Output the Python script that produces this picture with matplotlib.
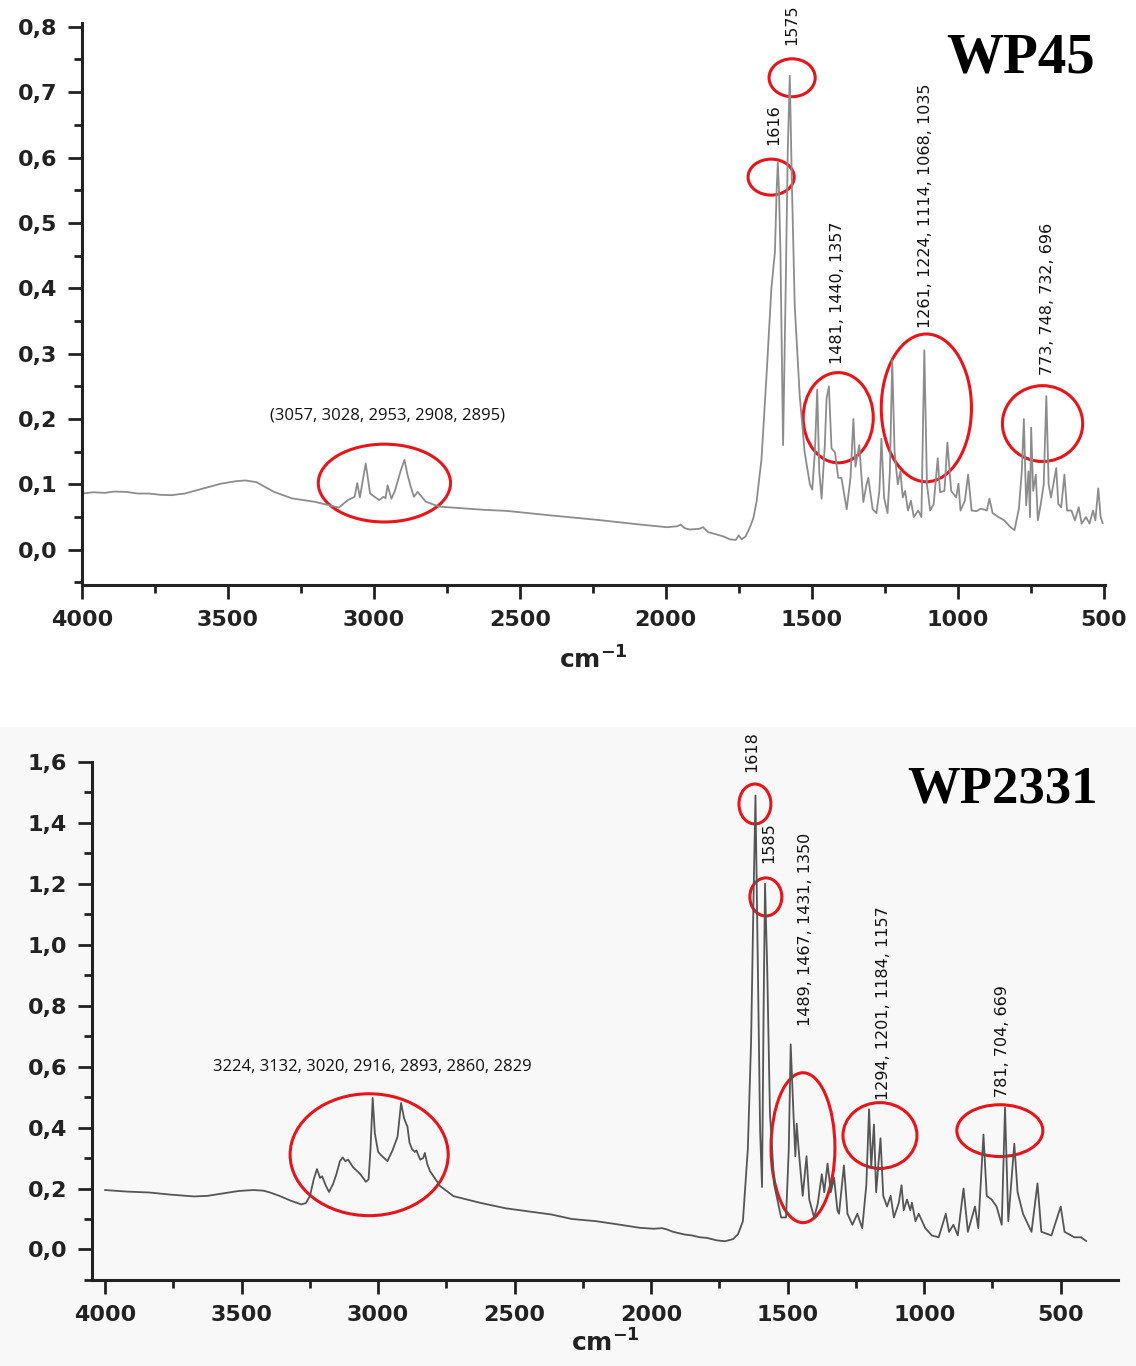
import numpy as np
import matplotlib
matplotlib.use("Agg")
from matplotlib import pyplot as plt
from matplotlib.patches import Ellipse, Rectangle
from matplotlib.ticker import MultipleLocator, FuncFormatter

# WP45 spectrum
wp45_wn = [4000, 3960, 3923, 3890, 3847, 3810, 3770, 3730, 3694, 3648, 3586, 3525, 3470, 3441,
           3403, 3342, 3280, 3204, 3158, 3120, 3089, 3066, 3057, 3048, 3028, 3013, 2982, 2967,
           2960, 2953, 2940, 2928, 2916, 2908, 2895, 2885, 2875, 2863, 2850, 2822, 2776, 2699,
           2620, 2546, 2470, 2393, 2301, 2240, 2160, 2087, 2030, 1995, 1960, 1949, 1935, 1918,
           1885, 1872, 1855, 1826, 1800, 1781, 1760, 1750, 1740, 1727, 1712, 1700, 1689, 1672,
           1655, 1638, 1626, 1620, 1616, 1612, 1607, 1598, 1589, 1582, 1575, 1568, 1558, 1541,
           1524, 1506, 1498, 1489, 1481, 1474, 1466, 1455, 1449, 1441, 1432, 1420, 1409, 1398,
           1380, 1367, 1357, 1350, 1337, 1323, 1312, 1306, 1291, 1278, 1268, 1261, 1252, 1240,
           1232, 1224, 1216, 1205, 1196, 1188, 1180, 1170, 1160, 1150, 1135, 1124, 1114, 1105,
           1094, 1082, 1068, 1060, 1045, 1035, 1022, 1005, 997, 990, 975, 964, 952, 935, 920,
           900, 891, 880, 860, 840, 820, 805, 790, 780, 773, 765, 757, 752, 748, 741, 732, 725,
           715, 705, 696, 688, 680, 662, 655, 645, 634, 625, 610, 598, 585, 575, 560, 548, 536,
           528, 518, 510, 503]
wp45_abs = [0.086, 0.088, 0.087, 0.089, 0.0885, 0.086, 0.086, 0.084, 0.0835, 0.086, 0.0935, 0.101,
            0.105, 0.106, 0.1035, 0.0885, 0.0785, 0.0735, 0.0685, 0.0645, 0.076, 0.081, 0.102, 0.08,
            0.132, 0.086, 0.076, 0.081, 0.079, 0.0985, 0.078, 0.09, 0.1085, 0.121, 0.1375, 0.115,
            0.0985, 0.081, 0.0885, 0.0735, 0.066, 0.0635, 0.061, 0.0595, 0.056, 0.0525, 0.0485,
            0.046, 0.042, 0.0385, 0.036, 0.0345, 0.036, 0.0385, 0.033, 0.031, 0.032, 0.0345, 0.027,
            0.0235, 0.02, 0.016, 0.015, 0.022, 0.016, 0.02, 0.034, 0.048, 0.073, 0.138, 0.264, 0.40,
            0.455, 0.55, 0.592, 0.55, 0.455, 0.16, 0.40, 0.608, 0.725, 0.564, 0.373, 0.236, 0.149,
            0.10, 0.092, 0.15, 0.245, 0.12, 0.078, 0.16, 0.231, 0.25, 0.155, 0.149, 0.11, 0.11,
            0.062, 0.11, 0.20, 0.127, 0.16, 0.073, 0.10, 0.11, 0.062, 0.056, 0.09, 0.17, 0.08,
            0.056, 0.12, 0.29, 0.15, 0.10, 0.12, 0.08, 0.09, 0.06, 0.075, 0.05, 0.06, 0.05, 0.305,
            0.10, 0.06, 0.07, 0.14, 0.088, 0.09, 0.164, 0.09, 0.08, 0.101, 0.06, 0.075, 0.115,
            0.06, 0.059, 0.063, 0.06, 0.078, 0.056, 0.05, 0.045, 0.035, 0.03, 0.063, 0.12, 0.20,
            0.068, 0.12, 0.05, 0.187, 0.09, 0.115, 0.045, 0.07, 0.10, 0.235, 0.10, 0.08, 0.125,
            0.07, 0.065, 0.115, 0.06, 0.06, 0.045, 0.065, 0.04, 0.05, 0.04, 0.06, 0.045, 0.094,
            0.05, 0.041]

# WP2331 spectrum
wp2331_wn = [4000, 3920, 3839, 3760, 3674, 3625, 3560, 3511, 3458, 3420, 3396, 3359, 3320, 3282,
             3265, 3250, 3236, 3224, 3213, 3205, 3192, 3180, 3165, 3152, 3140, 3130, 3120, 3110,
             3092, 3067, 3045, 3035, 3028, 3020, 3012, 3000, 2990, 2966, 2947, 2929, 2922, 2916,
             2905, 2896, 2893, 2885, 2876, 2866, 2860, 2846, 2835, 2829, 2820, 2810, 2773, 2724,
             2626, 2532, 2450, 2367, 2290, 2203, 2120, 2041, 1990, 1960, 1943, 1920, 1877, 1850,
             1822, 1796, 1760, 1730, 1700, 1682, 1664, 1646, 1634, 1625, 1618, 1609, 1601, 1594,
             1588, 1583, 1575, 1565, 1549, 1524, 1506, 1496, 1489, 1479, 1472, 1467, 1460, 1445,
             1431, 1421, 1403, 1390, 1375, 1366, 1354, 1342, 1330, 1318, 1312, 1294, 1281, 1263,
             1245, 1227, 1212, 1202, 1194, 1184, 1176, 1160, 1150, 1136, 1123, 1111, 1093, 1083,
             1075, 1063, 1051, 1045, 1032, 1020, 996, 972, 947, 921, 909, 893, 877, 856, 840, 814,
             802, 783, 771, 753, 735, 716, 704, 692, 670, 658, 638, 607, 585, 571, 534, 500, 486,
             450, 426, 407]
wp2331_abs = [0.195, 0.19, 0.187, 0.18, 0.174, 0.176, 0.185, 0.192, 0.195, 0.193, 0.187, 0.175,
              0.16, 0.148, 0.152, 0.175, 0.23, 0.264, 0.235, 0.24, 0.21, 0.189, 0.215, 0.25, 0.29,
              0.302, 0.29, 0.295, 0.27, 0.249, 0.222, 0.23, 0.33, 0.497, 0.38, 0.32, 0.31, 0.29,
              0.326, 0.37, 0.43, 0.481, 0.43, 0.41, 0.405, 0.35, 0.33, 0.32, 0.325, 0.295, 0.30,
              0.317, 0.28, 0.257, 0.208, 0.175, 0.153, 0.135, 0.125, 0.115, 0.10, 0.093, 0.082,
              0.071, 0.068, 0.07, 0.066, 0.058, 0.049, 0.046, 0.04, 0.038, 0.03, 0.027, 0.034,
              0.05, 0.093, 0.33, 0.685, 1.16, 1.49, 0.92, 0.39, 0.205, 0.803, 1.20, 0.922, 0.448,
              0.211, 0.105, 0.105, 0.33, 0.673, 0.448, 0.306, 0.413, 0.33, 0.176, 0.306, 0.164,
              0.105, 0.15, 0.247, 0.188, 0.282, 0.188, 0.235, 0.129, 0.117, 0.276, 0.117, 0.081,
              0.117, 0.07, 0.211, 0.46, 0.27, 0.41, 0.188, 0.365, 0.176, 0.141, 0.176, 0.105,
              0.153, 0.211, 0.129, 0.164, 0.129, 0.153, 0.093, 0.117, 0.07, 0.046, 0.04, 0.117,
              0.058, 0.081, 0.046, 0.2, 0.058, 0.141, 0.07, 0.377, 0.176, 0.164, 0.141, 0.081,
              0.466, 0.093, 0.347, 0.188, 0.117, 0.058, 0.217, 0.058, 0.046, 0.141, 0.058, 0.04,
              0.04, 0.028]

# peak groups: label text, label position (wn, abs), circle centre, circle size
wp45_labels = ["1575", "1616", "1481, 1440, 1357", "1261, 1224, 1114, 1068, 1035",
               "773, 748, 732, 696"]
wp45_label_pos = [(1567, 0.803), (1629, 0.651), (1413, 0.393), (1111, 0.526), (692, 0.384)]
wp45_circles = [(1567, 0.722, 158, 0.058), (1639, 0.570, 158, 0.055), (1409, 0.202, 240, 0.138),
                (1107, 0.217, 309, 0.226), (709, 0.193, 275, 0.116), (2964, 0.102, 453, 0.119)]
wp45_ch_label = "(3057, 3028, 2953, 2908, 2895)"

wp2331_labels = ["1618", "1585", "1489, 1467, 1431, 1350", "1294, 1201, 1184, 1157",
                 "781, 704, 669"]
wp2331_label_pos = [(1631, 1.633), (1569, 1.334), (1433, 1.049), (1148, 0.807), (712, 0.685)]
wp2331_circles = [(1620, 1.462, 117, 0.131), (1580, 1.157, 117, 0.125), (1444, 0.334, 234, 0.492),
                  (1162, 0.374, 271, 0.216), (723, 0.39, 315, 0.17), (3033, 0.311, 579, 0.40)]
wp2331_ch_label = "3224, 3132, 3020, 2916, 2893, 2860, 2829"

RED = "#e8141a"
AX = "#222222"


def comma(v, pos):
    return ("%.1f" % v).replace(".", ",")


def style_axes(ax, xlim, ylim, ymaj, ymin, labelpad):
    ax.set_xlim(*xlim)
    ax.set_ylim(*ylim)
    for s in ["top", "right"]:
        ax.spines[s].set_visible(False)
    for s in ["left", "bottom"]:
        ax.spines[s].set_linewidth(2.2)
        ax.spines[s].set_color(AX)
    ax.xaxis.set_major_locator(MultipleLocator(500))
    ax.xaxis.set_minor_locator(MultipleLocator(250))
    ax.yaxis.set_major_locator(MultipleLocator(ymaj))
    ax.yaxis.set_minor_locator(MultipleLocator(ymin))
    ax.yaxis.set_major_formatter(FuncFormatter(comma))
    ax.tick_params(which="major", length=10, width=2, color=AX, direction="out")
    ax.tick_params(which="minor", length=6, width=2, color=AX, direction="out")
    ax.tick_params(labelsize=16, labelcolor=AX, pad=8)
    for lab in ax.get_xticklabels() + ax.get_yticklabels():
        lab.set_fontweight("bold")
    ax.set_xlabel("cm$^{\\mathbf{-1}}$", fontsize=18, fontweight="bold", color=AX,
                  labelpad=labelpad)
    ax.patch.set_alpha(0)


def annotate(ax, labels, label_pos, circles, ch_label, ch_pos):
    for (cx, cy, w, h) in circles:
        ax.add_patch(Ellipse((cx, cy), w, h, fill=False, edgecolor=RED, lw=2.2, clip_on=False))
    for txt, (x, y) in zip(labels, label_pos):
        ax.text(x, y, txt, rotation=90, ha="center", va="center", fontsize=11.5,
                family=["Liberation Sans Narrow", "DejaVu Sans"], color="#111111", clip_on=False)
    ax.text(ch_pos[0], ch_pos[1], ch_label, ha="center", va="center", fontsize=12,
            family="Open Sans", color="#111111")


fig = plt.figure(figsize=(11.36, 13.66), dpi=100)
fig.patches.append(Rectangle((0, 0), 1, 0.468, transform=fig.transFigure,
                             facecolor="#f8f8f8", edgecolor="none", zorder=-10))

ax1 = fig.add_axes([0.0722, 0.5717, 0.9005, 0.4111])
ax1.plot(wp45_wn, wp45_abs, color="#8c8c8c", lw=1.3)
style_axes(ax1, (4000, 495), (-0.054, 0.805), 0.1, 0.05, 12)
annotate(ax1, wp45_labels, wp45_label_pos, wp45_circles, wp45_ch_label, (2953, 0.205))
ax1.text(785, 0.751, "WP45", ha="center", va="center", fontsize=41, fontweight="bold",
         family="Liberation Serif", color="black")

ax2 = fig.add_axes([0.081, 0.063, 0.9032, 0.3792])
ax2.plot(wp2331_wn, wp2331_abs, color="#555555", lw=1.3)
style_axes(ax2, (4048, 290), (-0.1, 1.6), 0.2, 0.1, 3)
annotate(ax2, wp2331_labels, wp2331_label_pos, wp2331_circles, wp2331_ch_label, (3022, 0.60))
ax2.text(712, 1.508, "WP2331", ha="center", va="center", fontsize=38, fontweight="bold",
         family="Liberation Serif", color="black")

fig.savefig("out.png", dpi=100)
